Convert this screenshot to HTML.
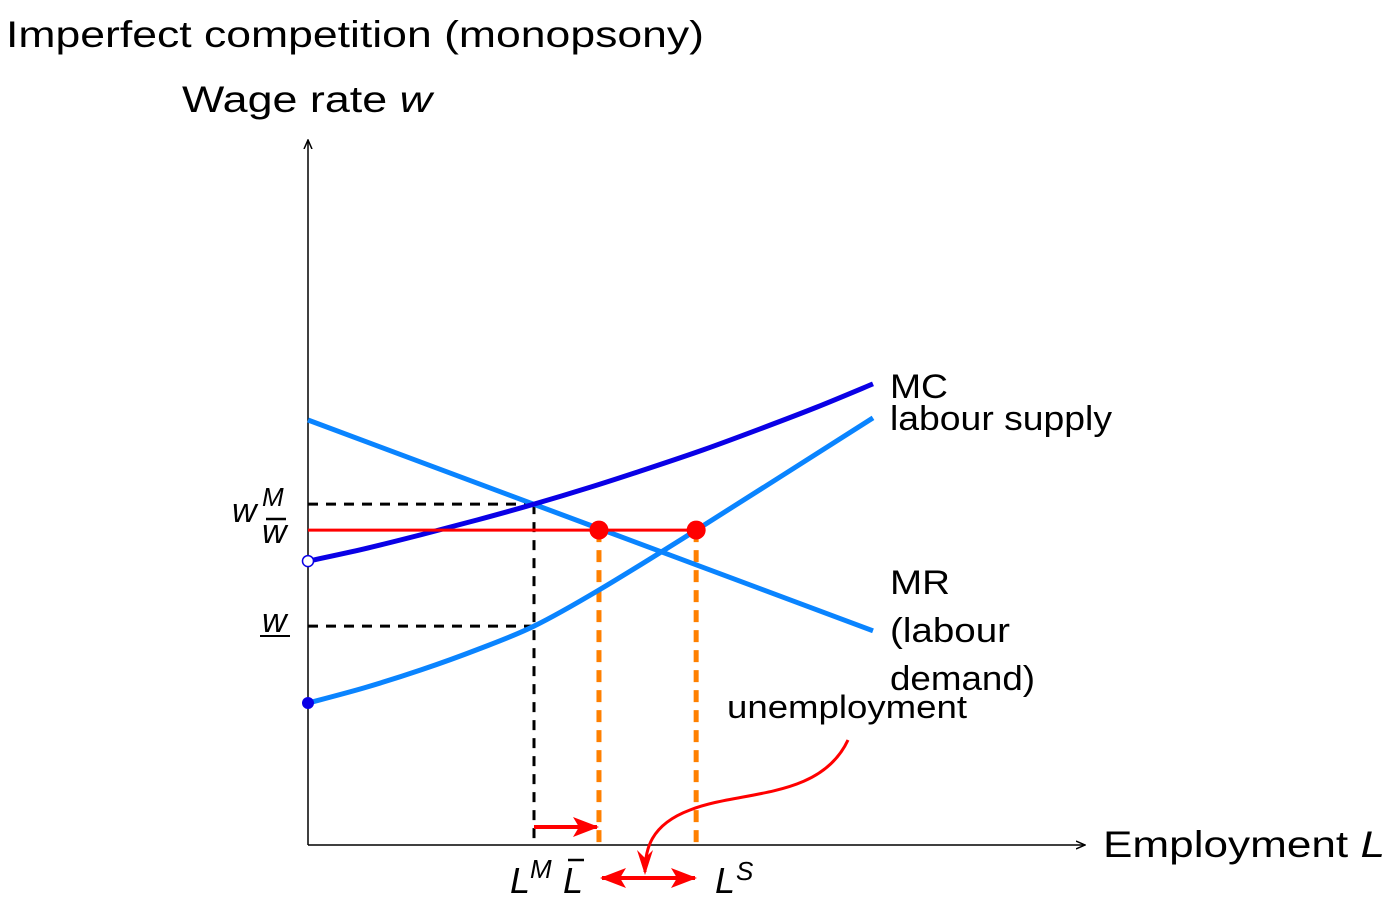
<!DOCTYPE html>
<html><head><meta charset="utf-8"><style>body{margin:0;background:#fff}svg{display:block;font-family:"Liberation Sans",sans-serif}</style></head>
<body>
<svg id="c" width="1390" height="906" viewBox="0 0 1390 906">
<defs>
<marker id="ah" markerWidth="10" markerHeight="10" refX="9" refY="5" orient="auto" markerUnits="userSpaceOnUse"><path d="M0,1 L9,5 L0,9" fill="none" stroke="#000" stroke-width="1.5"/></marker>
<marker id="ra" markerWidth="26" markerHeight="20" refX="24" refY="10" orient="auto" markerUnits="userSpaceOnUse"><path d="M0,0 L26,10 L0,20 L6,10 Z" fill="#f00"/></marker>
<marker id="rs" markerWidth="26" markerHeight="20" refX="2" refY="10" orient="auto" markerUnits="userSpaceOnUse"><path d="M26,0 L0,10 L26,20 L20,10 Z" fill="#f00"/></marker>
</defs>
<text x="6" y="47" font-size="37" textLength="698" lengthAdjust="spacingAndGlyphs">Imperfect competition (monopsony)</text>
<text x="182" y="112" font-size="37" textLength="250" lengthAdjust="spacingAndGlyphs">Wage rate <tspan font-style="italic">w</tspan></text>
<text x="1103" y="857" font-size="37" textLength="282" lengthAdjust="spacingAndGlyphs">Employment <tspan font-style="italic">L</tspan></text>
<line x1="308" y1="845" x2="308" y2="140" stroke="#000" stroke-width="1.5" marker-end="url(#ah)"/>
<line x1="308" y1="845" x2="1085" y2="845" stroke="#000" stroke-width="1.5" marker-end="url(#ah)"/>
<g id="g"></g>
</svg>
<script>
const mcX=[0,1,2,3,4,5,6,7,8,9,10];
const mcY=[6.68,6.97,7.30,7.65,8.02,8.42,8.85,9.30,9.79,10.30,10.85];
const supX=[0,1,2,3,4,5.15,6.87,10];
const supY=[3.34,3.7,4.12,4.6,5.15,6.0,7.41,10.05];
const mrX=[0,10];
const mrY=[10,5.04];
const LM=4, Lbar=5.15, LS=6.87;
const wM=8.02, wBar=7.41, wLow=5.15;
const X=v=>308+v*56.5, Y=v=>845-v*42.5;
const g=document.getElementById('g');
const NS='http://www.w3.org/2000/svg';
function mk(t,a,p){const e=document.createElementNS(NS,t);for(const k in a)e.setAttribute(k,a[k]);(p||g).appendChild(e);return e;}
function line(x1,y1,x2,y2,st,w,d){const e=mk('line',{x1,y1,x2,y2,stroke:st,'stroke-width':w});if(d)e.setAttribute('stroke-dasharray',d);return e;}
function smooth(xs,ys){const p=xs.map((x,i)=>[X(x),Y(ys[i])]);let d='M'+p[0][0]+','+p[0][1];for(let i=0;i<p.length-1;i++){const p0=p[i-1]||p[i],p1=p[i],p2=p[i+1],p3=p[i+2]||p2;d+=' C'+(p1[0]+(p2[0]-p0[0])/6)+','+(p1[1]+(p2[1]-p0[1])/6)+' '+(p2[0]-(p3[0]-p1[0])/6)+','+(p2[1]-(p3[1]-p1[1])/6)+' '+p2[0]+','+p2[1];}return d;}
function curve(xs,ys,c){return mk('path',{d:smooth(xs,ys),fill:'none',stroke:c,'stroke-width':5,'stroke-linejoin':'round'});}
let e;
e=line(X(0),Y(wM),X(LM),Y(wM),'#000',3,'10,8');


e=line(X(0),Y(wLow),X(LM),Y(wLow),'#000',3,'10,8');


e=line(X(LM),Y(wM),X(LM),Y(0),'#000',3,'10,8');


e=line(X(Lbar),Y(wBar),X(Lbar),Y(0),'#ff8000',5,'12,8');


e=line(X(LS),Y(wBar),X(LS),Y(0),'#ff8000',5,'12,8');


e=curve(mrX,mrY,'#0a84ff');


e=curve(supX,supY,'#0a84ff');


e=curve(mcX,mcY,'#0a00e6');


e=line(X(0),Y(wBar),X(LS),Y(wBar),'#f00',3);


e=mk('circle',{cx:X(Lbar),cy:Y(wBar),r:9.5,fill:'#f00'});


e=mk('circle',{cx:X(LS),cy:Y(wBar),r:9.5,fill:'#f00'});


e=mk('circle',{cx:X(0),cy:Y(mcY[0]),r:5.5,fill:'#fff',stroke:'#0a00e6','stroke-width':1.5});


e=mk('circle',{cx:X(0),cy:Y(supY[0]),r:6,fill:'#0a00e6'});


e=mk('line',{x1:X(LM),y1:827,x2:X(Lbar)-2,y2:827,stroke:'#f00','stroke-width':4,'marker-end':'url(#ra)'});


e=mk('line',{x1:602,y1:878,x2:695,y2:878,stroke:'#f00','stroke-width':4,'marker-end':'url(#ra)','marker-start':'url(#rs)'});


e=mk('path',{d:'M848,740 C820,800 740,790 690,810 C650,825 645,850 645,872',fill:'none',stroke:'#f00','stroke-width':3});


e=mk('path',{d:'M637,850 L645,875 L653,850 L645,858 Z',fill:'#f00'});


function txt(x,y,s,sz,name,it,tl){const t=mk('text',{x,y,'font-size':sz});if(it)t.setAttribute('font-style','italic');if(tl){t.setAttribute('textLength',tl);t.setAttribute('lengthAdjust','spacingAndGlyphs');}t.textContent=s;return t;}
txt(890,398,'MC',34,'mc-label',0,58);
txt(890,430,'labour supply',34,'supply-label',0,222);
txt(890,594,'MR',34,'mr-label',0,60);
txt(890,642,'(labour',34,'mr-label-2',0,120);
txt(890,690,'demand)',34,'mr-label-3',0,145);
txt(727,718,'unemployment',32,'unemployment-label',0,240);
txt(232,522,'w',34,'wm-label',1);
txt(262,506,'M',26,'wm-sup',1);
txt(262,543,'w',34,'wbar-label',1);
line(266,519,286,519,'#000',2.5);
txt(262,632,'w',34,'wlow-label',1);
line(260,636,290,636,'#000',2);
txt(510,893,'L',36,'lm-label',1);
txt(530,878,'M',26,'lm-sup',1);
txt(563,893,'L',36,'lbar-label',1);
line(568,860,584,860,'#000',2.5);
txt(715,893,'L',36,'ls-label',1);
txt(736,880,'S',26,'ls-sup',1);
</script>
</body></html>
